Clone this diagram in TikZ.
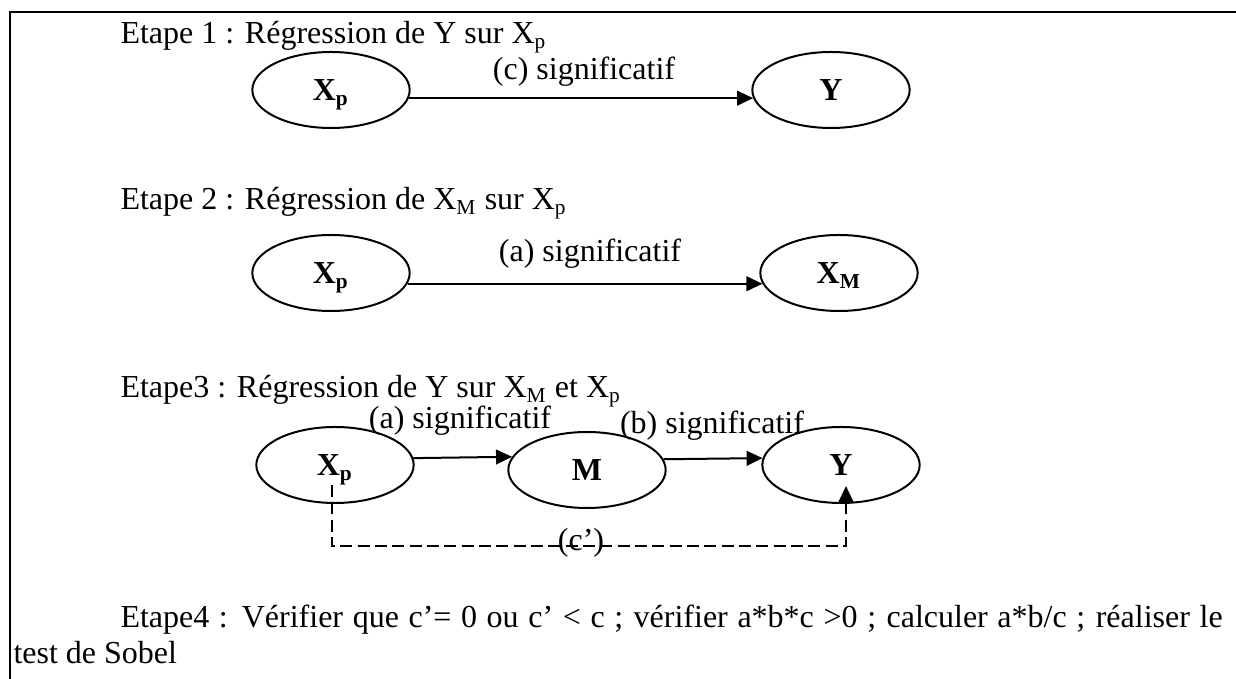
\documentclass[12pt,tikz,border=0pt]{standalone}
\usepackage{fontspec}
\setmainfont{Liberation Serif}
\usetikzlibrary{arrows.meta,shapes.geometric}

\begin{document}
\begin{tikzpicture}[x=0.375pt,y=-0.375pt,
  var/.style={draw,ellipse,line width=0.75pt,minimum width=59pt,minimum height=28.5pt,inner sep=0pt,
    text height=8pt,text depth=-2pt,font=\bfseries},
  arr/.style={-{Triangle[length=6pt,width=5.5pt]},line width=0.75pt},
  lbl/.style={anchor=base,inner sep=0pt},
  etape/.style={anchor=base west,inner sep=0pt}]
\useasboundingbox (0,0) rectangle (1236,679);
\draw[line width=0.75pt] (10,679) -- (10,12) -- (1236,12);
% step 1
\node[etape] (t1) at (120,44) {Etape 1 : Régression de Y sur X\textsubscript{p}};
\node[var] (xp1) at (331,90) {X\textsubscript{p}};
\node[var] (y1) at (831,90) {Y};
\draw[arr] (xp1.-6) -- (y1.186);
\node[lbl] (c1) at (584,80) {(c) significatif};
% step 2
\node[etape] (t2) at (120,210) {Etape 2 : Régression de X\textsubscript{M} sur X\textsubscript{p}};
\node[var] (xp2) at (331,273) {X\textsubscript{p}};
\node[var] (xm2) at (839,273) {X\textsubscript{M}};
\draw[arr] (xp2.-8) -- (xm2.188);
\node[lbl] (a2) at (590,262) {(a) significatif};
% step 3
\node[etape] (t3) at (120,398) {Etape3 : Régression de Y sur X\textsubscript{M} et X\textsubscript{p}};
\node[var] (xp3) at (335,465) {X\textsubscript{p}};
\node[var] (m3) at (587,470) {M};
\node[var] (y3) at (841,465) {Y};
\draw[arr] (xp3.5) -- (m3.170);
\draw[arr] (m3.8) -- (y3.175);
\node[lbl] (a3) at (460,429) {(a) significatif};
\node[lbl] (b3) at (712,434) {(b) significatif};
\coordinate (d0) at (332,485);
\coordinate (d1) at (846,486);
\draw[arr,dash pattern=on 4.5pt off 2pt] (d0) -- (d0 |- 0,546) -| (d1);
\node (cp) at (581,543) {(c’)};
% step 4
\node[etape] (t4) at (120,628) {\makebox[413.25pt][s]{Etape4 : Vérifier que c’= 0 ou c’ < c ; vérifier a*b*c >0 ; calculer a*b/c ; réaliser le}};
\node[etape] (t5) at (13,664) {test de Sobel};
\end{tikzpicture}
\end{document}
